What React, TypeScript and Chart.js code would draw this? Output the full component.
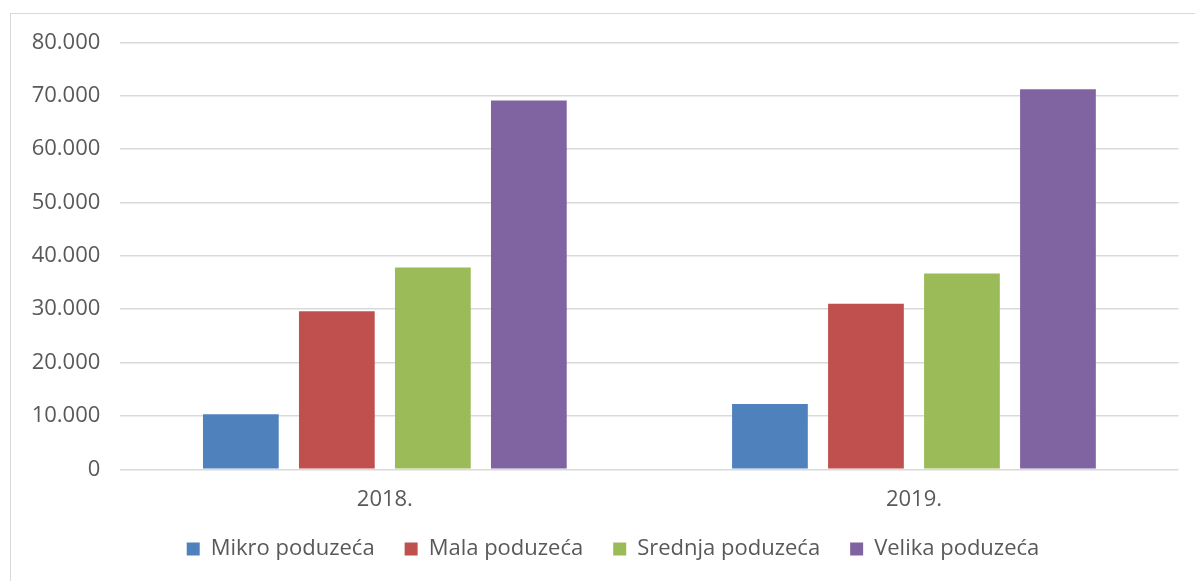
import React, { useEffect, useRef } from "react";
import { Chart, registerables } from "chart.js";

Chart.register(...registerables);

const categories = ["2018.", "2019."];
const seriesNames = ["Mikro poduzeća", "Mala poduzeća", "Srednja poduzeća", "Velika poduzeća"];
const mikro = [10300, 12250];
const mala = [29600, 31000];
const srednja = [37800, 36700];
const velika = [69100, 71200];
const seriesColors = ["#4f81bd", "#c0504d", "#9bbb59", "#8064a2"];
const yMin = 0;
const yMax = 80000;
const yStep = 10000;

const fmt = (v: number) => String(Math.round(v)).replace(/\B(?=(\d{3})+(?!\d))/g, ".");

const legendPlacer = {
  id: "legendPlacer",
  afterLayout(chart: any) {
    const lg = chart.legend;
    if (!lg) return;
    const h = lg.height;
    lg.left = 47.5;
    lg.right = 1178.5;
    lg.width = lg.right - lg.left;
    lg.top = 508;
    lg.bottom = 508 + h;
  },
};

export default function App() {
  const ref = useRef<HTMLCanvasElement | null>(null);
  useEffect(() => {
    if (!ref.current) return;
    const values = [mikro, mala, srednja, velika];
    const font = { family: "'Open Sans', sans-serif", size: 22 };
    const chart = new Chart(ref.current, {
      type: "bar",
      data: {
        labels: categories,
        datasets: seriesNames.map((name, i) => ({
          label: name,
          data: values[i],
          backgroundColor: seriesColors[i],
          borderWidth: 0,
          categoryPercentage: 0.7258,
          barPercentage: 0.789,
        })),
      },
      plugins: [legendPlacer],
      options: {
        animation: false,
        responsive: false,
        devicePixelRatio: 1,
        layout: { padding: { left: 0, right: 16.5, top: 42.3, bottom: -10.7 } },
        plugins: {
          tooltip: { enabled: false },
          legend: {
            position: "bottom",
            labels: {
              boxWidth: 13,
              boxHeight: 13,
              padding: 30,
              color: "#595959",
              font,
            },
          },
        },
        scales: {
          x: {
            grid: { display: false, drawTicks: false },
            border: { display: false },
            ticks: { color: "#595959", font, padding: 17 },
          },
          y: {
            min: yMin,
            max: yMax,
            grid: { color: "#d9d9d9", lineWidth: 1.5, drawTicks: false },
            border: { display: false },
            ticks: {
              stepSize: yStep,
              color: "#595959",
              font,
              padding: 20,
              callback: (v: any) => fmt(Number(v)),
            },
            afterFit: (s: any) => {
              s.width = 120.3;
            },
          },
        },
      },
    });
    return () => chart.destroy();
  }, []);
  return (
    <div style={{ position: "fixed", left: 0, top: 0, width: 1195, height: 581, overflow: "hidden", background: "#fff" }}>
      <div
        style={{
          position: "absolute",
          left: 10,
          top: 13,
          width: 1220,
          height: 620,
          border: "1px solid #d9d9d9",
          boxSizing: "border-box",
        }}
      />
      <canvas
        ref={ref}
        width={1195}
        height={581}
        style={{ position: "absolute", left: 0, top: 0, width: 1195, height: 581 }}
      />
    </div>
  );
}
